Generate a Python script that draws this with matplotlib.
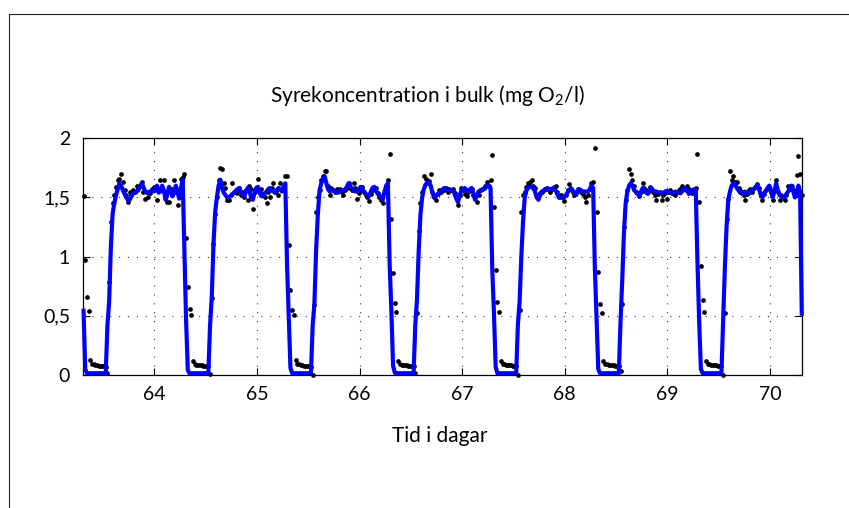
import numpy as np
import matplotlib
matplotlib.use("Agg")
import matplotlib.pyplot as plt
from matplotlib.lines import Line2D

plt.rcParams['font.family'] = ['Lato', 'DejaVu Sans']

# ---------------- data ----------------
t_start = 63.31          # first sample (day)
samples_per_day = 60     # 24-minute sampling

# measured oxygen (black dots), one list per day block
dots_day1 = [1.51, 0.97, 0.66, 0.54, 0.13, 0.095, 0.09, 0.085, 0.085, 0.08,
             0.08, 0.08, 0.075, 0.07, 0.02, 0.79, 1.29, 1.45, 1.52, 1.59,
             1.65, 1.66, 1.70, 1.63, 1.56, 1.52, 1.46, 1.55, 1.52, 1.56,
             1.55, 1.60, 1.58, 1.60, 1.63, 1.55, 1.49, 1.55, 1.50, 1.54,
             1.57, 1.59, 1.56, 1.48, 1.57, 1.65, 1.58, 1.65, 1.52, 1.46,
             1.46, 1.57, 1.52, 1.65, 1.55, 1.44, 1.55, 1.66, 1.67, 1.70]
dots_day2 = [1.155, 0.746, 0.56, 0.51, 0.12, 0.09, 0.088, 0.085, 0.085, 0.082,
             0.08, 0.08, 0.078, 0.075, 0.01, 0.65, 1.11, 1.36, 1.50, 1.65,
             1.75, 1.74, 1.62, 1.58, 1.48, 1.48, 1.52, 1.62, 1.55, 1.56,
             1.54, 1.58, 1.52, 1.55, 1.50, 1.56, 1.48, 1.60, 1.57, 1.40,
             1.55, 1.58, 1.66, 1.55, 1.57, 1.52, 1.50, 1.45, 1.55, 1.50,
             1.58, 1.62, 1.55, 1.56, 1.52, 1.62, 1.58, 1.60, 1.68, 1.68]
dots_day3 = [1.10, 0.72, 0.55, 0.51, 0.13, 0.095, 0.09, 0.085, 0.085, 0.08,
             0.08, 0.08, 0.075, 0.07, 0.0, 0.59, 1.38, 1.50, 1.56, 1.65,
             1.68, 1.72, 1.72, 1.60, 1.52, 1.58, 1.56, 1.55, 1.57, 1.56,
             1.57, 1.55, 1.52, 1.56, 1.58, 1.62, 1.58, 1.56, 1.62, 1.58,
             1.49, 1.54, 1.56, 1.59, 1.55, 1.52, 1.50, 1.47, 1.53, 1.56,
             1.58, 1.58, 1.54, 1.50, 1.48, 1.45, 1.55, 1.60, 1.65, 1.87]
dots_day4 = [1.32, 0.86, 0.61, 0.53, 0.12, 0.09, 0.088, 0.085, 0.085, 0.082,
             0.08, 0.08, 0.078, 0.075, 0.02, 0.52, 1.22, 1.45, 1.55, 1.68,
             1.66, 1.62, 1.64, 1.70, 1.55, 1.50, 1.48, 1.53, 1.56, 1.55,
             1.57, 1.56, 1.58, 1.55, 1.57, 1.56, 1.57, 1.54, 1.50, 1.44,
             1.52, 1.58, 1.56, 1.53, 1.51, 1.55, 1.56, 1.57, 1.52, 1.50,
             1.46, 1.52, 1.56, 1.57, 1.58, 1.60, 1.63, 1.60, 1.65, 1.86]
dots_day5 = [1.42, 0.89, 0.62, 0.53, 0.12, 0.095, 0.09, 0.088, 0.085, 0.085,
             0.082, 0.08, 0.078, 0.075, 0.0, 0.55, 1.38, 1.52, 1.55, 1.59,
             1.62, 1.63, 1.65, 1.60, 1.58, 1.52, 1.50, 1.54, 1.55, 1.56,
             1.57, 1.58, 1.56, 1.55, 1.57, 1.59, 1.60, 1.55, 1.50, 1.52,
             1.50, 1.47, 1.52, 1.56, 1.61, 1.57, 1.55, 1.52, 1.55, 1.57,
             1.56, 1.55, 1.53, 1.50, 1.46, 1.52, 1.57, 1.62, 1.63, 1.92]
dots_day6 = [1.38, 0.87, 0.60, 0.52, 0.12, 0.095, 0.09, 0.088, 0.085, 0.085,
             0.082, 0.08, 0.078, 0.075, 0.03, 0.60, 1.25, 1.48, 1.56, 1.74,
             1.70, 1.65, 1.60, 1.55, 1.54, 1.51, 1.55, 1.62, 1.58, 1.56,
             1.55, 1.59, 1.57, 1.55, 1.52, 1.48, 1.53, 1.55, 1.48, 1.52,
             1.54, 1.49, 1.55, 1.56, 1.54, 1.53, 1.52, 1.55, 1.56, 1.57,
             1.60, 1.58, 1.56, 1.60, 1.57, 1.55, 1.54, 1.56, 1.58, 1.87]
dots_day7 = [1.46, 0.92, 0.63, 0.53, 0.12, 0.095, 0.09, 0.088, 0.085, 0.085,
             0.082, 0.08, 0.078, 0.075, 0.0, 0.52, 1.32, 1.49, 1.72, 1.65,
             1.68, 1.63, 1.63, 1.58, 1.56, 1.55, 1.52, 1.48, 1.53, 1.56,
             1.57, 1.55, 1.58, 1.60, 1.61, 1.58, 1.52, 1.48, 1.53, 1.56,
             1.58, 1.59, 1.55, 1.48, 1.56, 1.65, 1.55, 1.48, 1.52, 1.50,
             1.48, 1.52, 1.60, 1.57, 1.60, 1.56, 1.52, 1.69, 1.85, 1.70]
dots_last = [1.52]

# modelled oxygen (blue line), same sampling
line_day1 = [0.56, 0.05, 0.015, 0.015, 0.015, 0.015, 0.015, 0.015, 0.015, 0.015,
             0.015, 0.015, 0.015, 0.015, 0.42, 0.62, 1.08, 1.36, 1.45, 1.52,
             1.57, 1.62, 1.60, 1.56, 1.53, 1.50, 1.48, 1.48, 1.51, 1.535,
             1.54, 1.55, 1.56, 1.59, 1.62, 1.59, 1.55, 1.54, 1.54, 1.55,
             1.56, 1.55, 1.58, 1.60, 1.54, 1.55, 1.60, 1.56, 1.48, 1.52,
             1.59, 1.56, 1.51, 1.55, 1.60, 1.54, 1.49, 1.58, 1.65, 1.05]
line_day2 = [0.45, 0.04, 0.015, 0.015, 0.015, 0.015, 0.015, 0.015, 0.015, 0.015,
             0.015, 0.015, 0.015, 0.015, 0.42, 0.66, 1.11, 1.38, 1.50, 1.60,
             1.65, 1.58, 1.54, 1.52, 1.50, 1.50, 1.51, 1.53, 1.535, 1.55,
             1.57, 1.58, 1.55, 1.52, 1.51, 1.55, 1.58, 1.56, 1.50, 1.48,
             1.54, 1.58, 1.59, 1.54, 1.51, 1.52, 1.535, 1.55, 1.57, 1.58,
             1.56, 1.55, 1.54, 1.56, 1.58, 1.57, 1.55, 1.58, 1.62, 0.94]
line_day3 = [0.50, 0.06, 0.015, 0.015, 0.015, 0.015, 0.015, 0.015, 0.015, 0.015,
             0.015, 0.015, 0.015, 0.015, 0.42, 0.60, 1.05, 1.35, 1.56, 1.62,
             1.66, 1.68, 1.62, 1.57, 1.55, 1.56, 1.56, 1.55, 1.545, 1.54,
             1.55, 1.56, 1.56, 1.57, 1.59, 1.62, 1.59, 1.58, 1.56, 1.55,
             1.55, 1.57, 1.59, 1.57, 1.55, 1.53, 1.52, 1.51, 1.55, 1.58,
             1.59, 1.56, 1.53, 1.52, 1.50, 1.48, 1.55, 1.60, 1.62, 0.94]
line_day4 = [0.55, 0.08, 0.02, 0.015, 0.015, 0.015, 0.015, 0.015, 0.015, 0.015,
             0.015, 0.015, 0.015, 0.015, 0.42, 0.64, 1.05, 1.35, 1.50, 1.57,
             1.61, 1.62, 1.63, 1.60, 1.54, 1.50, 1.51, 1.53, 1.535, 1.55,
             1.57, 1.58, 1.57, 1.56, 1.56, 1.565, 1.56, 1.53, 1.49, 1.46,
             1.52, 1.56, 1.57, 1.58, 1.56, 1.55, 1.57, 1.58, 1.53, 1.48,
             1.52, 1.55, 1.555, 1.56, 1.57, 1.58, 1.60, 1.60, 1.58, 0.90]
line_day5 = [0.52, 0.07, 0.015, 0.015, 0.015, 0.015, 0.015, 0.015, 0.015, 0.015,
             0.015, 0.015, 0.015, 0.015, 0.43, 0.62, 1.00, 1.30, 1.50, 1.56,
             1.58, 1.59, 1.59, 1.58, 1.55, 1.50, 1.48, 1.52, 1.55, 1.56,
             1.57, 1.575, 1.57, 1.57, 1.575, 1.58, 1.56, 1.53, 1.50, 1.50,
             1.50, 1.50, 1.52, 1.54, 1.56, 1.58, 1.56, 1.54, 1.52, 1.55,
             1.57, 1.56, 1.55, 1.55, 1.55, 1.55, 1.57, 1.60, 1.58, 0.90]
line_day6 = [0.48, 0.05, 0.015, 0.015, 0.015, 0.015, 0.015, 0.015, 0.015, 0.015,
             0.015, 0.015, 0.015, 0.015, 0.45, 0.80, 1.20, 1.45, 1.55, 1.60,
             1.62, 1.60, 1.56, 1.55, 1.53, 1.51, 1.55, 1.58, 1.56, 1.54,
             1.53, 1.56, 1.58, 1.56, 1.55, 1.55, 1.54, 1.54, 1.535, 1.54,
             1.55, 1.555, 1.55, 1.54, 1.535, 1.54, 1.55, 1.545, 1.54, 1.535,
             1.55, 1.57, 1.58, 1.56, 1.53, 1.54, 1.56, 1.57, 1.56, 0.95]
line_day7 = [0.45, 0.05, 0.015, 0.015, 0.015, 0.015, 0.015, 0.015, 0.015, 0.015,
             0.015, 0.015, 0.015, 0.015, 0.45, 0.90, 1.25, 1.48, 1.55, 1.60,
             1.62, 1.61, 1.58, 1.56, 1.54, 1.53, 1.54, 1.55, 1.54, 1.53,
             1.55, 1.56, 1.57, 1.59, 1.60, 1.57, 1.52, 1.50, 1.54, 1.56,
             1.58, 1.60, 1.56, 1.50, 1.55, 1.62, 1.56, 1.52, 1.51, 1.50,
             1.50, 1.53, 1.55, 1.58, 1.60, 1.55, 1.50, 1.55, 1.60, 1.55]
line_last = [0.50]

x_ticks = [64, 65, 66, 67, 68, 69, 70]
x_tick_labels = ['64', '65', '66', '67', '68', '69', '70']
y_ticks = [0, 0.5, 1, 1.5, 2]
y_tick_labels = ['0', '0,5', '1', '1,5', '2']
title_text = 'Syrekoncentration i bulk (mg $\\mathregular{O_2}$/l)'
xlabel_text = 'Tid i dagar'

dots = np.array(dots_day1 + dots_day2 + dots_day3 + dots_day4 +
                dots_day5 + dots_day6 + dots_day7 + dots_last)
line = np.array(line_day1 + line_day2 + line_day3 + line_day4 +
                line_day5 + line_day6 + line_day7 + line_last)
t = t_start + np.arange(len(dots)) / samples_per_day

# ---------------- figure ----------------
W, H = 849, 508
fig = plt.figure(figsize=(W / 100, H / 100), dpi=100)
ax = fig.add_axes([83.3 / W, 1 - 375 / H, (801.7 - 83.3) / W, (375 - 138.3) / H])

ax.plot(t, dots, linestyle='none', marker='o', ms=3.4, mec='none',
        mfc='black', clip_on=False, zorder=3)
ax.plot(t, line, color='#0000ff', lw=3.0, solid_joinstyle='round',
        solid_capstyle='butt', clip_on=False, zorder=4)

ax.set_xlim(63.308, 70.309)
ax.set_ylim(0, 2)
ax.set_xticks(x_ticks)
ax.set_xticklabels(x_tick_labels)
ax.set_yticks(y_ticks)
ax.set_yticklabels(y_tick_labels)
ax.tick_params(direction='in', length=5, width=0.8, top=True, right=True,
               labelsize=14, colors='black')
ax.tick_params(axis='x', pad=8)
ax.tick_params(axis='y', pad=9.5)
ax.grid(True, linestyle=(0, (1, 7)), color='#333333', linewidth=0.8)
ax.set_axisbelow(True)
for s in ax.spines.values():
    s.set_linewidth(0.9)
    s.set_color('black')

fig.text(427 / W, 1 - 96 / H, title_text, ha='center', va='center', fontsize=15)
fig.text(440 / W, 1 - 436 / H, xlabel_text, ha='center', va='center', fontsize=15)

# outer frame (top and left edge visible)
fx, fy = 9.3 / W, 1 - 13.7 / H
fig.add_artist(Line2D([fx, fx], [0, fy], transform=fig.transFigure,
                      color='#222222', lw=0.8))
fig.add_artist(Line2D([fx, 1], [fy, fy], transform=fig.transFigure,
                      color='#222222', lw=0.8))

fig.savefig('out.png', dpi=100)
